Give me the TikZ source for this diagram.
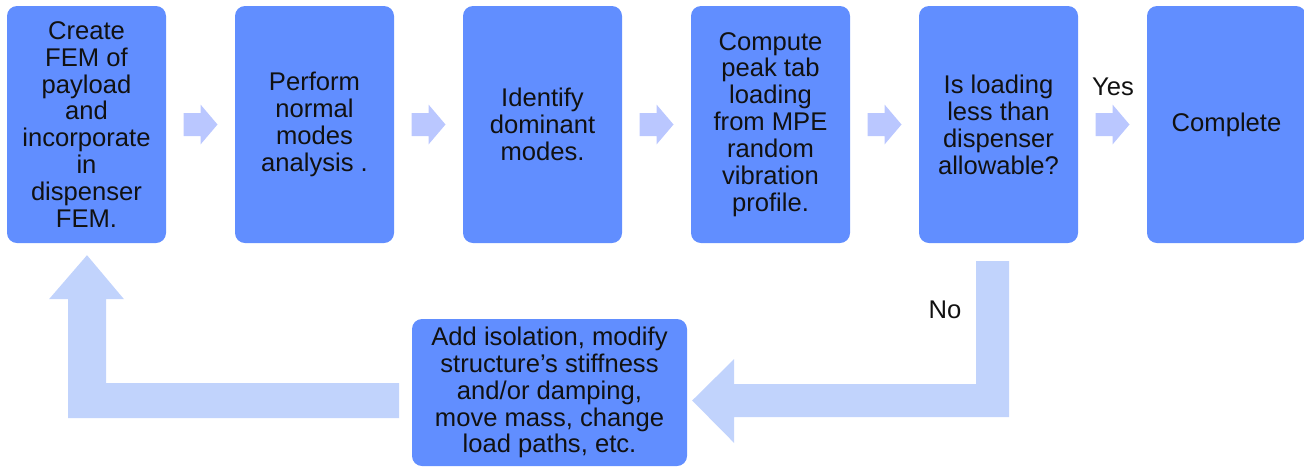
\documentclass[tikz,border=0pt]{standalone}
\usepackage{fontspec}
\setmainfont{Liberation Sans}
\usetikzlibrary{calc}
\definecolor{boxblue}{RGB}{97,142,255}
\definecolor{arrsmall}{RGB}{186,199,255}
\definecolor{arrbig}{RGB}{193,211,252}
\definecolor{txt}{RGB}{17,17,17}
\tikzset{
  stepbox/.style={fill=boxblue, rounded corners=10pt, minimum width=159pt, minimum height=237pt,
    inner sep=0pt, align=center, text=txt, font=\fontsize{25.6}{26.9}\selectfont},
  fixbox/.style={stepbox, minimum width=275pt, minimum height=147pt},
  lbl/.style={text=txt, inner sep=0pt, font=\fontsize{25.6}{26.9}\selectfont},
  smallarr/.style={fill=arrsmall},
  bigarr/.style={fill=arrbig}
}
\newcommand{\flowarrow}[2]{%
  \path ($(#1.east)!0.5!(#2.west)$) coordinate (m#1#2);
  \fill[smallarr, shift={(m#1#2)}] (-17,-11.5) -- (0,-11.5) -- (0,-20) -- (17,0) -- (0,20) -- (0,11.5) -- (-17,11.5) -- cycle;}
\begin{document}
\begin{tikzpicture}[x=1pt,y=-1pt]
\useasboundingbox (0,0) rectangle (1304,467);
\node[stepbox] (b1) at (86.5,124.5) {Create\\FEM of\\payload\\and\\incorporate\\in\\dispenser\\FEM.};
\node[stepbox] (b2) at (314.5,124.5) {Perform\\normal\\modes\\analysis .};
\node[stepbox] (b3) at (542.5,124.5) {Identify\\dominant\\modes.};
\node[stepbox] (b4) at (770.5,124.5) {Compute\\peak tab\\loading\\from MPE\\random\\vibration\\profile.};
\node[stepbox] (b5) at (998.5,124.5) {Is loading\\less than\\dispenser\\allowable?};
\node[stepbox] (b6) at (1226.5,124.5) {Complete};
\node[fixbox] (fix) at (549.5,392.5) {Add isolation, modify\\structure’s stiffness\\and/or damping,\\move mass, change\\load paths, etc.};
\flowarrow{b1}{b2}
\flowarrow{b2}{b3}
\flowarrow{b3}{b4}
\flowarrow{b4}{b5}
\flowarrow{b5}{b6}
\node[lbl] (yes) at (1113,87) {Yes};
\node[lbl] (no) at (945,310) {No};
% No branch: from b5 down and left to fix
\coordinate (tipR) at ($(fix.east)+(5,8)$);
\fill[bigarr] (tipR) -- ++(42,-41.5) -- ++(0,25) -- ++(242,0) -- ++(0,-123) -- ++(33,0)
  -- ++(0,156) -- ++(-275,0) -- ++(0,26) -- cycle;
% Back to b1
\coordinate (tipL) at ($(b1.south)+(0.5,12)$);
\fill[bigarr] (tipL) -- ++(37,44) -- ++(-18,0) -- ++(0,84) -- ++(293,0) -- ++(0,35)
  -- ++(-331,0) -- ++(0,-119) -- ++(-19,0) -- cycle;
\end{tikzpicture}
\end{document}
